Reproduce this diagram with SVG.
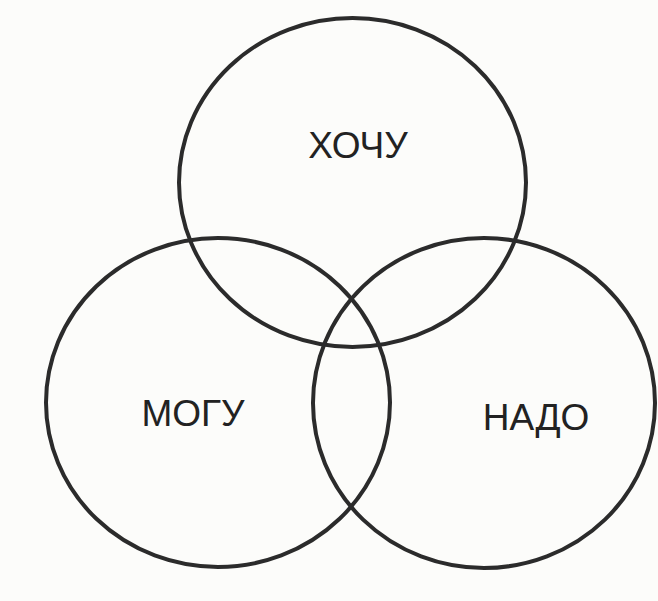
<svg xmlns="http://www.w3.org/2000/svg" width="658" height="601" viewBox="0 0 658 601">
<style>
.c{fill:none;stroke:#2b2b2b;stroke-width:4}
.t{font-family:"Liberation Sans",Arial,sans-serif;font-size:37px;fill:#222;text-anchor:middle}
</style>
<rect width="658" height="601" fill="#fcfcfa"/>
<g id="hochu"><ellipse class="c" cx="352.5" cy="182.5" rx="173.5" ry="164.5"/><text class="t" x="358" y="158">ХОЧУ</text></g>
<g id="mogu"><ellipse class="c" cx="218" cy="402.5" rx="172" ry="164.5"/><text class="t" x="193" y="426">МОГУ</text></g>
<g id="nado"><ellipse class="c" cx="484" cy="403" rx="171" ry="165"/><text class="t" x="536" y="430">НАДО</text></g>
<g id="connectors"/>
</svg>
